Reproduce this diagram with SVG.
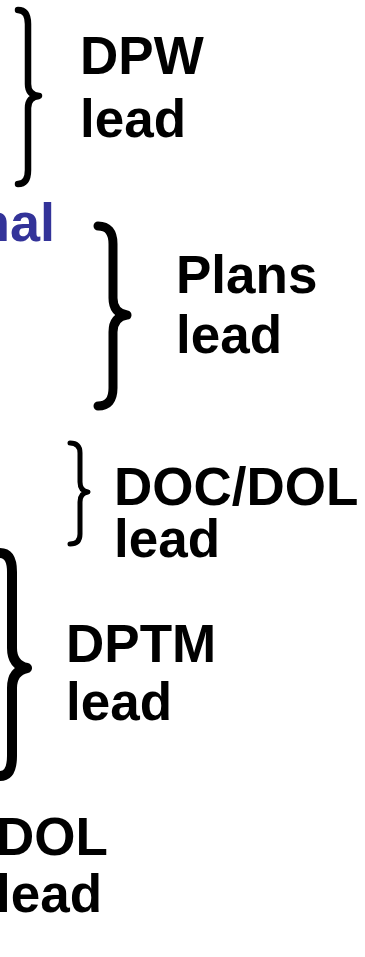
<svg xmlns="http://www.w3.org/2000/svg" width="365" height="957" viewBox="0 0 365 957">
<style>
.t{font-family:"Liberation Sans",Arial,sans-serif;font-weight:bold;font-size:53px;fill:#000}
.b{fill:#333399;font-size:54px}
.br{fill:none;stroke:#000;stroke-linejoin:round;stroke-linecap:round}
</style>
<rect width="365" height="957" fill="#fff"/>
<g id="connectors">
<path id="brace-dpw" class="br" stroke-width="6.5" d="M18,10 Q28,10 28,24 L28,84 Q28,95 39,96 Q28,97 28,108 L28,170 Q28,184 18,184"/>
<path id="brace-plans" class="br" stroke-width="9" d="M98,226 Q113,226 113,244 L113,298 Q113,313 127,315 Q113,317 113,332 L113,388 Q113,406 98,406"/>
<path id="brace-doc" class="br" stroke-width="5" d="M70,443 Q80,443 80,453 L80,482 Q80,491 88,492 Q80,493 80,502 L80,534 Q80,544 70,544"/>
<path id="brace-dptm" class="br" stroke-width="10" d="M0,553 Q12,553 12,572 L12,648 Q12,665 27,668 Q12,671 12,688 L12,756 Q12,776 0,776"/>
</g>
<g id="node-dpw"><text class="t" x="80" y="74">DPW</text><text class="t" x="80" y="137">lead</text></g>
<g id="node-nal"><text class="t b" x="-23" y="241">nal</text></g>
<g id="node-plans"><text class="t" x="176" y="293">Plans</text><text class="t" x="176" y="353">lead</text></g>
<g id="node-docdol"><text class="t" x="114" y="505">DOC/DOL</text><text class="t" x="114" y="557">lead</text></g>
<g id="node-dptm"><text class="t" x="66" y="662">DPTM</text><text class="t" x="66" y="720">lead</text></g>
<g id="node-dol"><text class="t" x="-4" y="855">DOL</text><text class="t" x="-4" y="912">lead</text></g>
</svg>
